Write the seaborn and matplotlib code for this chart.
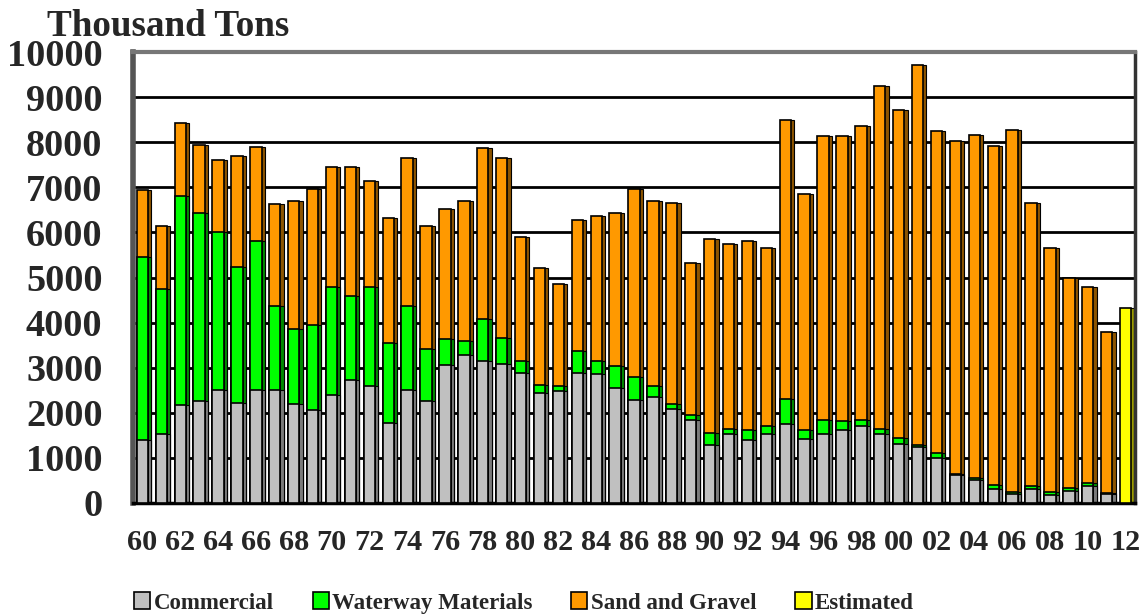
import numpy as np
import pandas as pd
import matplotlib
matplotlib.use("Agg")
import matplotlib.pyplot as plt
from matplotlib.patches import Patch
import seaborn as sns

# Annual dredged material, thousand tons, 1960-2011 (2012 estimated)
years = list(range(1960, 2013))
commercial = [1400, 1530, 2170, 2270, 2500, 2220, 2500, 2500, 2200, 2060,
              2400, 2720, 2600, 1770, 2500, 2270, 3070, 3290, 3140, 3090,
              2880, 2430, 2480, 2880, 2850, 2560, 2290, 2350, 2090, 1850,
              1280, 1520, 1390, 1540, 1760, 1410, 1520, 1610, 1710, 1540,
              1300, 1240, 1000, 630, 500, 300, 190, 300, 170, 260,
              370, 190]
waterway = [4050, 3220, 4630, 4150, 3500, 3010, 3320, 1860, 1660, 1880,
            2380, 1860, 2180, 1780, 1860, 1140, 570, 310, 950, 570,
            260, 180, 110, 480, 290, 470, 500, 250, 110, 100,
            280, 130, 230, 170, 540, 200, 320, 210, 130, 110,
            150, 40, 110, 10, 60, 90, 60, 70, 80, 80,
            80, 30]
sand_gravel = [1500, 1400, 1620, 1520, 1600, 2470, 2080, 2270, 2830, 3020,
               2680, 2860, 2370, 2780, 3280, 2740, 2880, 3100, 3790, 3990,
               2750, 2610, 2270, 2910, 3220, 3410, 4170, 4100, 4460, 3380,
               4290, 4090, 4180, 3940, 6200, 5240, 6300, 6320, 6510, 7590,
               7270, 8440, 7130, 7380, 7610, 7520, 8030, 6280, 5400, 4660,
               4350, 3580]
estimated = {2012: 4320}
tick_labels = [f"{y % 100:02d}" for y in years[::2]]

series_names = ["Commercial", "Waterway Materials", "Sand and Gravel", "Estimated"]
face_colors = ["#C0C0C0", "#00FF00", "#FF9900", "#FFFF00"]
side_colors = ["#7A7A7A", "#008A00", "#8C5400", "#9A9A00"]

sns.set_style("white")
plt.rcParams["font.family"] = ["Liberation Serif", "DejaVu Serif"]
plt.rcParams["font.weight"] = "bold"

n_obs = len(commercial)
pad = [np.nan] * (len(years) - n_obs)
df = pd.DataFrame({
    "pos": np.arange(len(years)),
    "commercial": commercial + pad,
    "waterway": waterway + pad,
    "sand_gravel": sand_gravel + pad,
    "estimated": [estimated.get(y, np.nan) for y in years],
})
df["lvl1"] = df["commercial"]
df["lvl2"] = df["lvl1"] + df["waterway"]
df["lvl3"] = df["lvl2"] + df["sand_gravel"]

W, H = 1144, 616
fig = plt.figure(figsize=(W / 100, H / 100), dpi=100)
ax = fig.add_axes([133 / W, 1 - 503 / H, (1135 - 133) / W, (503 - 52) / H])

# stacked columns drawn as cumulative layers, each with a darker side face
layers = [("lvl3", 2), ("lvl2", 1), ("lvl1", 0), ("estimated", 3)]
for col, k in layers:
    sns.barplot(x=df["pos"] + 0.17, y=df[col], native_scale=True, width=0.6,
                color=side_colors[k], saturation=1, edgecolor="black",
                linewidth=0.8, errorbar=None, ax=ax, zorder=2)
    sns.barplot(x=df["pos"], y=df[col], native_scale=True, width=0.6,
                color=face_colors[k], saturation=1, edgecolor="black",
                linewidth=1.2, errorbar=None, ax=ax, zorder=3)

ax.set_xlim(-0.5, len(years) - 0.5)
ax.set_ylim(0, 10000)
ax.set_xlabel("")
ax.set_ylabel("")

ax.set_yticks(range(0, 10001, 1000))
ax.set_yticklabels([str(v) for v in range(0, 10001, 1000)],
                   fontsize=27.5, fontweight="bold")
ax.tick_params(axis="y", length=8, width=1, color="#444444", pad=14)

ax.set_xticks(df["pos"][::2])
ax.set_xticklabels(tick_labels, fontsize=21.8, fontweight="bold")
ax.set_xticks(np.arange(len(years) + 1) - 0.5, minor=True)
ax.tick_params(axis="x", which="major", length=0, pad=19)
ax.tick_params(axis="x", which="minor", length=7, width=1, color="#444444")

ax.yaxis.grid(True, color="black", linewidth=2)
ax.xaxis.grid(False)
ax.set_axisbelow(True)

ax.spines["left"].set_color("#555555")
ax.spines["left"].set_linewidth(4)
ax.spines["bottom"].set_color("black")
ax.spines["bottom"].set_linewidth(2.5)
ax.spines["top"].set_color("#777777")
ax.spines["top"].set_linewidth(3)
ax.spines["right"].set_color("#333333")
ax.spines["right"].set_linewidth(2.5)

fig.text(47 / W, 1 - 36 / H, "Thousand Tons", fontsize=26.7,
         fontweight="bold", ha="left", va="baseline")

handles = [Patch(facecolor=c, edgecolor="black", linewidth=1.2) for c in face_colors]
fig.legend(handles, series_names, loc="center", bbox_to_anchor=(0.458, 1 - 603 / H),
           ncol=4, frameon=False,
           prop={"family": "Liberation Serif", "weight": "bold", "size": 16.5},
           handlelength=0.7, handleheight=0.7, handletextpad=0.15,
           columnspacing=1.7)

fig.savefig("out.png", dpi=100)
